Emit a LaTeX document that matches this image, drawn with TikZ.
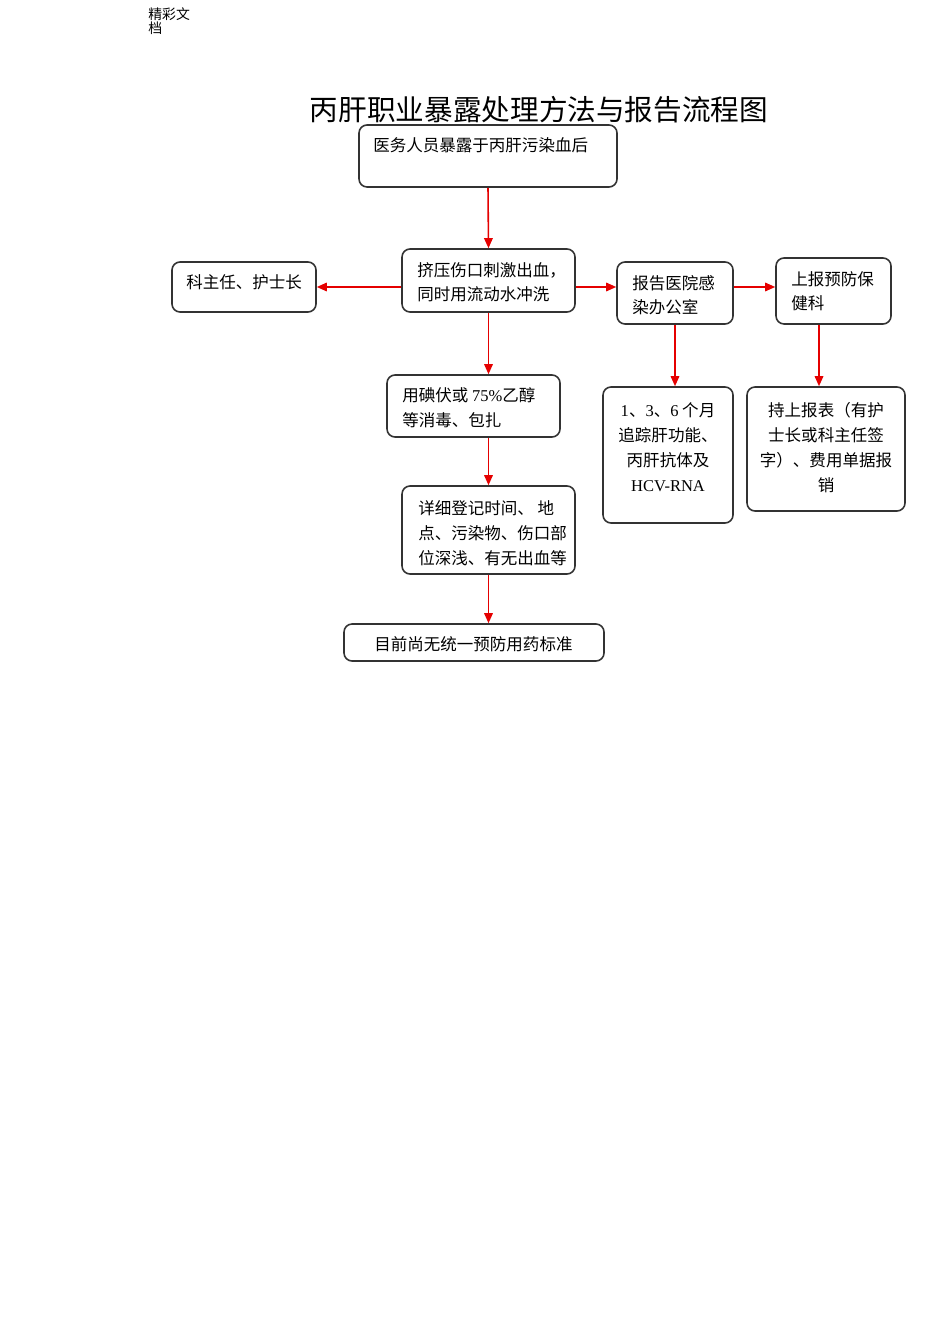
\documentclass[tikz,border=0pt]{standalone}
\usepackage{fontspec}
\setmainfont{Liberation Serif}
\newfontfamily\cjk{Noto Sans CJK SC}
\usetikzlibrary{arrows.meta, fit, calc, positioning}

\tikzset{
  box/.style={draw=black!80, line width=0.9pt, rounded corners=0.16cm, inner sep=0pt},
  txt/.style={anchor=base west, inner sep=0pt, align=left,
    font=\cjk\fontsize{9.4pt}{14.2pt}\selectfont},
  ctxt/.style={txt, anchor=base, align=center},
  arr/.style={draw=red!90!black, line width=0.9pt,
    -{Triangle[length=0.2cm, width=0.17cm]}},
}

\begin{document}
\begin{tikzpicture}[x=0.02cm, y=-0.02cm]
    \useasboundingbox (0,0) rectangle (950,1344);

    % header and title (text placed by the baseline of its last line)
    \node[anchor=base west, inner sep=0pt, align=left,
      font=\cjk\fontsize{7.9pt}{8.5pt}\selectfont] (hdr) at (148,34) {精彩文\\档};
    \node[anchor=base, inner sep=0pt, font=\cjk\fontsize{16.3pt}{18pt}\selectfont]
      (title) at (539,121) {丙肝职业暴露处理方法与报告流程图};

    % boxes
    \node[box, fit={(359,125) (617,187)}] (top) {};
    \node[txt] (top-t) at (373,152) {医务人员暴露于丙肝污染血后};

    \node[box, fit={(402,249) (575,312)}] (squeeze) {};
    \node[txt] (squeeze-t) at (417,301) {挤压伤口刺激出血，\\同时用流动水冲洗};

    \node[box, fit={(172,262) (316,312)}] (head) {};
    \node[txt] (head-t) at (186,289) {科主任、护士长};

    \node[box, fit={(617,262) (733,324)}] (office) {};
    \node[txt] (office-t) at (632,314) {报告医院感\\染办公室};

    \node[box, fit={(776,258) (891,324)}] (prevent) {};
    \node[txt] (prevent-t) at (791,310) {上报预防保\\健科};

    \node[box, fit={(387,375) (560,437)}] (disinfect) {};
    \node[txt] (disinfect-t) at (402,426) {用碘伏或 {\rmfamily 75\%}乙醇\\等消毒、包扎};

    \node[box, fit={(603,387) (733,523)}] (follow) {};
    \node[ctxt] (follow-t) at (668,491)
      {{\rmfamily 1}、{\rmfamily 3}、{\rmfamily 6} 个月\\追踪肝功能、\\丙肝抗体及\\{\rmfamily HCV-RNA}};

    \node[box, fit={(747,387) (905,511)}] (claim) {};
    \node[ctxt] (claim-t) at (826,491)
      {持上报表（有护\\士长或科主任签\\字）、费用单据报\\销};

    \node[box, fit={(402,486) (575,574)}] (record) {};
    \node[txt] (record-t) at (418,564) {详细登记时间、 地\\点、污染物、伤口部\\位深浅、有无出血等};

    \node[box, fit={(344,624) (604,661)}] (drug) {};
    \node[txt] (drug-t) at (374,650) {目前尚无统一预防用药标准};

    % arrows
    \draw[arr] (top.south) -- (squeeze.north);
    \draw[arr] (squeeze.west |- head) -- (head.east);
    \draw[arr] (squeeze.east |- head) -- (office.west |- head);
    \draw[arr] (office.east |- head) -- (prevent.west |- head);
    \draw[arr] (squeeze.south) -- (squeeze.south |- disinfect.north);
    \draw[arr] (squeeze.south |- disinfect.south) -- (record.north);
    \draw[arr] (record.south) -- (record.south |- drug.north);
    \draw[arr] (office.south) -- (office.south |- follow.north);
    \draw[arr] ([xshift=-0.29cm]prevent.south) -- ([xshift=-0.29cm]prevent.south |- claim.north);
\end{tikzpicture}
\end{document}
